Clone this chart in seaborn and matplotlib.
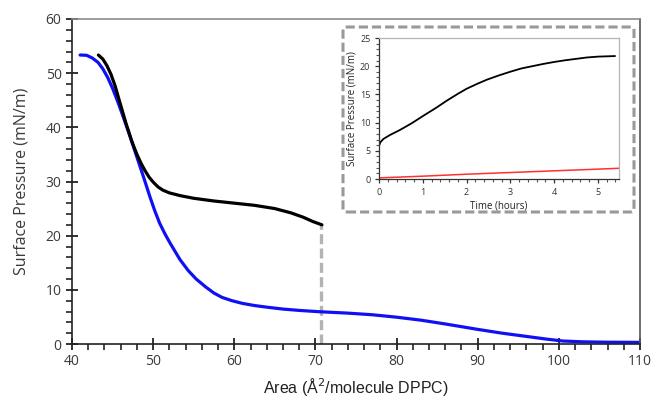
import numpy as np
import pandas as pd
import matplotlib
matplotlib.use("Agg")
import matplotlib.pyplot as plt
from matplotlib.patches import FancyBboxPatch
from matplotlib.ticker import MultipleLocator
import seaborn as sns

# ---- main isotherm data ----
black_area = [43.25, 43.8, 44.3, 44.8, 45.3, 45.9, 46.7, 47.4, 48.0, 48.5, 49.0, 49.5, 50.0, 50.6, 51.2, 52.0,
              53.3, 55.0, 57.5, 60.0, 62.5, 65.0, 67.0, 68.5, 69.7, 70.8]
black_pi   = [53.35, 52.6, 51.4, 49.8, 47.7, 44.6, 40.5, 37.3, 35.0, 33.4, 32.0, 30.8, 29.9, 29.0, 28.4, 27.9,
              27.4, 26.9, 26.4, 26.0, 25.6, 25.0, 24.2, 23.4, 22.6, 22.0]

blue_area = [41.0, 41.8, 42.5, 43.2, 43.8, 44.4, 45.0, 45.6, 46.3, 47.0, 47.6, 48.2, 48.8, 49.6, 50.2, 50.8,
             51.5, 52.1, 53.3, 54.3, 55.3, 56.5, 57.5, 58.5, 59.7, 61.0, 62.5, 64.0, 66.0, 68.0, 70.6,
             74.0, 77.0, 80.0, 83.0, 86.0, 90.0, 93.0, 96.0, 98.5, 100.5, 103.0, 106.0, 110.0]
blue_pi   = [53.35, 53.3, 52.8, 52.0, 50.8, 49.2, 47.2, 44.9, 42.0, 39.0, 36.3, 33.6, 30.9, 27.2, 24.6, 22.3,
             20.2, 18.6, 15.6, 13.6, 12.0, 10.5, 9.4, 8.6, 8.0, 7.5, 7.1, 6.8, 6.45, 6.2, 5.95,
             5.7, 5.4, 4.95, 4.4, 3.7, 2.7, 2.0, 1.4, 0.9, 0.55, 0.4, 0.33, 0.3]

marker_area = [70.7, 70.7]
marker_pi = [0.0, 22.0]

# ---- inset data ----
inset_t_black = [0.0, 0.03, 0.1, 0.25, 0.48, 0.75, 1.01, 1.3, 1.55, 1.8, 2.0, 2.25, 2.46, 2.75, 2.99,
                 3.25, 3.5, 3.75, 4.0, 4.25, 4.5, 4.75, 5.0, 5.2, 5.39]
inset_p_black = [5.85, 6.5, 7.1, 7.8, 8.7, 9.9, 11.2, 12.6, 13.9, 15.1, 16.0, 16.9, 17.6, 18.4, 19.0,
                 19.6, 20.0, 20.4, 20.75, 21.05, 21.3, 21.55, 21.7, 21.75, 21.8]
inset_t_red = [0.0, 1.0, 2.0, 3.0, 4.0, 5.0, 5.48]
inset_p_red = [0.2, 0.5, 0.85, 1.15, 1.45, 1.75, 1.9]

main_xticks = [40, 50, 60, 70, 80, 90, 100, 110]
main_yticks = [0, 10, 20, 30, 40, 50, 60]
inset_xticks = [0, 1, 2, 3, 4, 5]
inset_yticks = [0, 5, 10, 15, 20, 25]

sns.set_theme(style="white")
plt.rcParams['font.family'] = ['Open Sans', 'DejaVu Sans']

W, H = 654, 401
fig = plt.figure(figsize=(W / 100, H / 100), dpi=100)

ax = fig.add_axes([72 / W, 1 - 344 / H, (640 - 72) / W, (344 - 19) / H])

df_b = pd.DataFrame({"x": black_area, "y": black_pi})
df_u = pd.DataFrame({"x": blue_area, "y": blue_pi})
df_m = pd.DataFrame({"x": marker_area, "y": marker_pi})

sns.lineplot(data=df_m, x="x", y="y", ax=ax, color="#b3b3b3", lw=2.4, sort=False,
             estimator=None, linestyle=(0, (3, 1.3)), zorder=1)
sns.lineplot(data=df_u, x="x", y="y", ax=ax, color="#1010f5", lw=2.3, sort=False, estimator=None, zorder=2)
sns.lineplot(data=df_b, x="x", y="y", ax=ax, color="black", lw=2.3, sort=False, estimator=None, zorder=3)

ax.set_xlim(40, 110)
ax.set_ylim(0, 60)
ax.set_xticks(main_xticks)
ax.set_yticks(main_yticks)
ax.xaxis.set_minor_locator(MultipleLocator(2))
ax.yaxis.set_minor_locator(MultipleLocator(2))
ax.tick_params(which="major", direction="inout", length=9, width=1.2, color="#111111",
               labelsize=10, labelcolor="#3a3a3a", pad=3, bottom=True, left=True)
ax.tick_params(which="minor", direction="out", length=4, width=1.1, color="#111111",
               bottom=True, left=True, top=False, right=False)
ax.set_xlabel("Area (Å$^2$/molecule DPPC)", fontsize=11.5, family=['Liberation Sans', 'DejaVu Sans'],
              color="#222222", labelpad=5)
ax.set_ylabel("Surface Pressure (mN/m)", fontsize=11.5, color="#3a3a3a")
ax.yaxis.set_label_coords(-0.074, 0.5)
for s in ["left", "bottom"]:
    ax.spines[s].set_color("#222222")
    ax.spines[s].set_linewidth(1.2)
ax.spines["top"].set_color("#8c8c8c")
ax.spines["top"].set_linewidth(1.2)
ax.spines["right"].set_color("#555555")
ax.spines["right"].set_linewidth(1.2)

# dashed rounded box around inset
box = FancyBboxPatch((343 / W, 1 - 212 / H), (634 - 343) / W, (212 - 27) / H,
                     boxstyle="round,pad=0,rounding_size=0.006", transform=fig.transFigure,
                     facecolor="white", edgecolor="#999999", lw=2.2, linestyle=(0, (3, 1.3)), zorder=5)
fig.patches.append(box)

axi = fig.add_axes([379 / W, 1 - 179 / H, (619 - 379) / W, (179 - 38) / H], zorder=10)
df_ib = pd.DataFrame({"t": inset_t_black, "p": inset_p_black})
df_ir = pd.DataFrame({"t": inset_t_red, "p": inset_p_red})
sns.lineplot(data=df_ir, x="t", y="p", ax=axi, color="#ff3030", lw=1.1, sort=False, estimator=None)
sns.lineplot(data=df_ib, x="t", y="p", ax=axi, color="black", lw=1.3, sort=False, estimator=None)
axi.set_xlim(0, 5.48)
axi.set_ylim(0, 25)
axi.set_xticks(inset_xticks)
axi.set_yticks(inset_yticks)
axi.xaxis.set_minor_locator(MultipleLocator(0.2))
axi.yaxis.set_minor_locator(MultipleLocator(1))
axi.tick_params(which="major", direction="out", length=3.2, width=0.9, color="#333333",
                labelsize=6.5, labelcolor="#333333", pad=3, bottom=True, left=True)
axi.tick_params(which="minor", direction="out", length=2, width=0.8, color="#555555",
                bottom=True, left=True, top=False, right=False)
axi.set_xlabel("Time (hours)", fontsize=7, color="#222222", labelpad=2.5)
axi.set_ylabel("Surface Pressure (mN/m)", fontsize=7, color="#222222")
axi.yaxis.set_label_coords(-0.09, 0.5)
for s in ["left", "bottom"]:
    axi.spines[s].set_color("#333333")
    axi.spines[s].set_linewidth(0.9)
for s in ["top", "right"]:
    axi.spines[s].set_color("#b5b5b5")
    axi.spines[s].set_linewidth(0.9)

fig.savefig("out.png", dpi=100)
